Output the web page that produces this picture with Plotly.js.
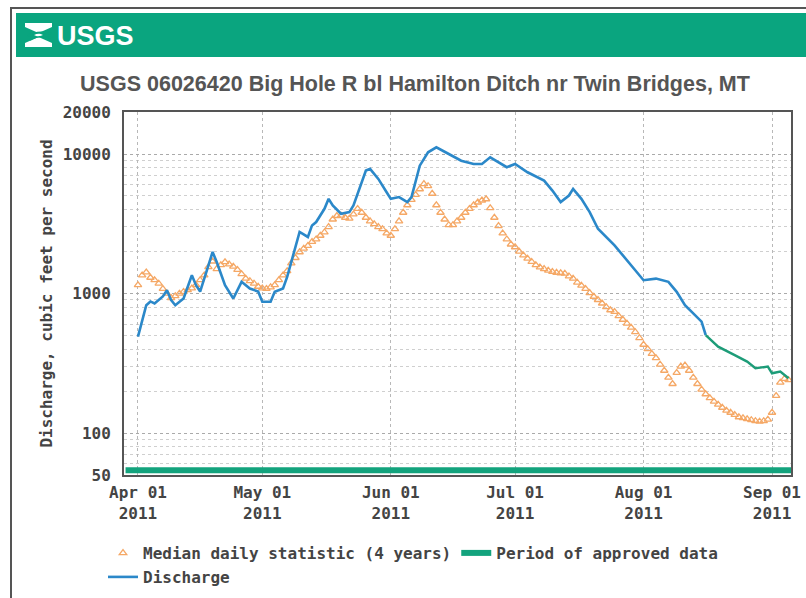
<!DOCTYPE html>
<html><head><meta charset="utf-8">
<script src="https://cdn.plot.ly/plotly-3.0.1.min.js"></script>
<style>html,body{margin:0;padding:0;background:#fff}#chart{width:806px;height:598px}</style>
</head><body><div id="chart"></div>
<script>
// ---------- data ----------
const chartTitle = 'USGS 06026420 Big Hole R bl Hamilton Ditch nr Twin Bridges, MT';
const monthTicks = ['2011-04-01','2011-05-01','2011-06-01','2011-07-01','2011-08-01','2011-09-01'];
const monthLabels = ['Apr 01<br>2011','May 01<br>2011','Jun 01<br>2011','Jul 01<br>2011','Aug 01<br>2011','Sep 01<br>2011'];
const yTickVals = [50, 100, 1000, 10000, 20000];
const yTickText = ['50', '100', '1000', '10000', '20000'];
const yMinorVals = [60,70,80,90,200,300,400,500,600,700,800,900,2000,3000,4000,5000,6000,7000,8000,9000];

const dischargeDates = [
 '2011-04-01','2011-04-03','2011-04-04','2011-04-05','2011-04-07','2011-04-08','2011-04-09','2011-04-10',
 '2011-04-12','2011-04-14','2011-04-15','2011-04-16','2011-04-18','2011-04-19','2011-04-20','2011-04-22',
 '2011-04-24','2011-04-26','2011-04-28','2011-04-30','2011-05-01','2011-05-03','2011-05-04','2011-05-06',
 '2011-05-07','2011-05-08','2011-05-09','2011-05-10','2011-05-12','2011-05-13','2011-05-14','2011-05-16',
 '2011-05-17','2011-05-18','2011-05-20','2011-05-22','2011-05-23','2011-05-25','2011-05-26','2011-05-27',
 '2011-05-29','2011-05-31','2011-06-01','2011-06-03','2011-06-05','2011-06-06','2011-06-08','2011-06-10',
 '2011-06-12','2011-06-15','2011-06-18','2011-06-21','2011-06-23','2011-06-25','2011-06-27','2011-06-29',
 '2011-07-01','2011-07-04','2011-07-08','2011-07-10','2011-07-12','2011-07-14','2011-07-15','2011-07-17',
 '2011-07-19','2011-07-21','2011-07-25','2011-07-29','2011-08-01','2011-08-04','2011-08-07','2011-08-09',
 '2011-08-11','2011-08-15','2011-08-16','2011-08-19','2011-08-23','2011-08-26','2011-08-28','2011-08-31',
 '2011-09-01','2011-09-03','2011-09-05'];
const dischargeValues = [
 491,824,877,849,952,1056,896,824,
 921,1352,1146,1033,1592,1985,1683,1146,
 921,1213,1086,1033,873,873,1028,1086,
 1315,1683,2096,2761,2542,3076,3252,4047,
 4771,4276,3728,3834,4276,6280,7609,7817,
 6630,5324,4771,4909,4522,4909,8250,10280,
 11160,10000,8954,8483,8483,9471,8725,8037,
 8483,7396,6444,5470,4522,5036,5623,4771,
 3834,2911,2213,1592,1245,1279,1213,1028,
 824,628,504,416,362,325,291,299,
 268,276,247];
const provisionalFrom = '2011-08-16';   // discharge drawn in green from this date

const medianStart = '2011-04-01';
const medianValues = [
 1150,1350,1420,1300,1250,1180,1080,1000,930,960,1000,1030,1060,1090,1150,1250,1350,1550,1700,1500,1600,1680,1620,1560,1480,1380,1280,1230,1180,1120,
 1090,1080,1110,1150,1250,1350,1450,1650,1800,1980,2100,2200,2350,2450,2600,2750,3000,3400,3600,3620,3500,3450,3700,4050,3800,3500,3300,3150,3000,2900,2700,
 2600,2900,3300,3800,4300,4700,5100,5600,6100,5900,5200,4300,3800,3400,3100,3100,3300,3500,3800,4050,4300,4500,4650,4750,4100,3500,3050,2700,2450,2250,
 2150,2000,1880,1780,1690,1600,1540,1500,1460,1430,1410,1400,1390,1330,1280,1200,1140,1080,1010,950,900,850,800,760,740,690,650,610,570,530,480,
 430,400,370,345,310,280,250,225,270,300,305,280,250,225,205,190,178,168,160,152,145,140,135,130,128,126,124,122,121,122,125,
 140,185,230,245,240];
const approvedPeriod = ['2011-03-29', '2011-09-05 14:00'];
const xRange = ['2011-03-28 15:00', '2011-09-05 14:00'];
const yRange = [50, 20000];

// ---------- build ----------
const medianDates = medianValues.map((v, i) => {
  const d = new Date(medianStart + 'T00:00:00Z');
  d.setUTCDate(d.getUTCDate() + i);
  return d.toISOString().slice(0, 10);
});
const blueX = [], blueY = [], greenX = [], greenY = [];
dischargeDates.forEach((d, i) => {
  if (d <= provisionalFrom) { blueX.push(d); blueY.push(dischargeValues[i]); }
  if (d >= provisionalFrom) { greenX.push(d); greenY.push(dischargeValues[i]); }
});

// plot-area pixel frame -> paper coords (for decorations outside the plot)
const W = 806, H = 598;
const PL = 124, PR = 791, PT = 112, PB = 475;
const px = x => (x - PL) / (PR - PL);
const py = y => (PB - y) / (PB - PT);
const cx = x => x / W;
const cy = y => 1 - y / H;

const mono = 'DejaVu Sans Mono, monospace';
const narrow = 'Liberation Sans Narrow, Arial Narrow, Liberation Sans, Arial, sans-serif';
const txt = '#444';
const green = '#13a37d';
const fs = 16;

const traces = [
  { x: medianDates, y: medianValues, type: 'scatter', mode: 'markers',
    name: 'Median daily statistic (4 years)', legend: 'legend', legendrank: 1,
    marker: { symbol: 'triangle-up-open', size: 6.5, color: '#f5a866', line: { width: 1.3, color: '#f5a866' } },
    hoverinfo: 'skip' },
  { x: blueX, y: blueY, type: 'scatter', mode: 'lines', name: 'Discharge', legend: 'legend2',
    line: { color: '#2b88c9', width: 2.6 }, hoverinfo: 'skip' },
  { x: greenX, y: greenY, type: 'scatter', mode: 'lines', showlegend: false,
    line: { color: '#1d9c78', width: 2.4 }, hoverinfo: 'skip' }
];

function P(pts) { return 'M' + pts.map(p => px(p[0]) + ',' + py(p[1])).join(' L') + ' Z'; }

const shapes = [
  // approved-data band
  { type: 'line', xref: 'x', yref: 'paper', x0: approvedPeriod[0], x1: approvedPeriod[1], y0: 0.013, y1: 0.013,
    line: { color: green, width: 6 }, showlegend: true, name: 'Period of approved data', legend: 'legend', legendrank: 2 },
  // header band
  { type: 'rect', xref: 'paper', yref: 'paper', x0: px(16), x1: px(806), y0: py(57), y1: py(13),
    fillcolor: '#0aa57f', line: { width: 0 }, layer: 'above' },
  // page frame
  { type: 'line', xref: 'paper', yref: 'paper', x0: px(10), x1: px(806), y0: py(8), y1: py(8), line: { color: '#555', width: 2 } },
  { type: 'line', xref: 'paper', yref: 'paper', x0: px(11), x1: px(11), y0: py(8), y1: py(598), line: { color: '#555', width: 2 } },
  // USGS mark
  { type: 'path', xref: 'paper', yref: 'paper', layer: 'above',
    path: P([[25,23],[52,23],[52,27],[34,35],[52,43],[52,47],[25,47],[25,43],[43,35],[25,27]]),
    fillcolor: '#ffffff', line: { width: 0 } },
  { type: 'path', xref: 'paper', yref: 'paper', layer: 'above',
    path: 'M' + px(28) + ',' + py(36) + ' Q' + px(38) + ',' + py(30) + ' ' + px(51) + ',' + py(34),
    line: { color: '#0aa57f', width: 2 } },
  { type: 'path', xref: 'paper', yref: 'paper', layer: 'above',
    path: 'M' + px(30) + ',' + py(40) + ' Q' + px(40) + ',' + py(34) + ' ' + px(52) + ',' + py(38),
    line: { color: '#0aa57f', width: 1.5 } }
];

const layout = {
  width: W, height: H,
  margin: { l: PL, r: W - PR, t: PT, b: H - PB, pad: 0 },
  paper_bgcolor: '#ffffff', plot_bgcolor: '#ffffff',
  title: { text: chartTitle, xref: 'container', yref: 'container', x: cx(415), xanchor: 'center',
    y: cy(83), yanchor: 'middle', automargin: false,
    font: { family: narrow, weight: 'bold', size: 21.5, color: '#555' } },
  xaxis: {
    type: 'date', range: xRange, tickmode: 'array', tickvals: monthTicks, ticktext: monthLabels,
    showgrid: true, gridcolor: '#b8b8b8', griddash: 'dot', gridwidth: 1,
    showline: true, mirror: true, linecolor: '#555', linewidth: 2, ticks: '', zeroline: false,
    ticklabelstandoff: 2, automargin: false,
    tickfont: { family: mono, weight: 'bold', size: fs, color: txt }
  },
  yaxis: {
    type: 'log', range: yRange.map(Math.log10), tickmode: 'array', tickvals: yTickVals, ticktext: yTickText,
    showgrid: true, gridcolor: '#aaaaaa', griddash: 'dot', gridwidth: 1,
    minor: { tickmode: 'array', tickvals: yMinorVals, showgrid: true, gridcolor: '#cfcfcf', griddash: 'dot', ticklen: 0 },
    showline: true, mirror: true, linecolor: '#555', linewidth: 2, ticks: '', zeroline: false,
    ticklabelstandoff: 8, automargin: false,
    tickfont: { family: mono, weight: 'bold', size: fs, color: txt },
    title: { text: 'Discharge, cubic feet per second', standoff: 6,
      font: { family: mono, weight: 'bold', size: fs, color: txt } }
  },
  legend: { orientation: 'h', xref: 'container', yref: 'container', x: cx(103), xanchor: 'left', y: cy(536), yanchor: 'top',
    bgcolor: 'rgba(0,0,0,0)', font: { family: mono, weight: 'bold', size: fs, color: txt } },
  legend2: { orientation: 'h', xref: 'container', yref: 'container', x: cx(103), xanchor: 'left', y: cy(560), yanchor: 'top',
    bgcolor: 'rgba(0,0,0,0)', font: { family: mono, weight: 'bold', size: fs, color: txt } },
  shapes: shapes,
  annotations: [
    { xref: 'paper', yref: 'paper', x: px(55), y: py(36), xanchor: 'left', yanchor: 'middle', showarrow: false,
      text: 'USGS', font: { family: narrow, weight: 'bold', size: 27, color: '#ffffff' } }
  ],
  showlegend: true
};

Plotly.newPlot('chart', traces, layout, { staticPlot: true, displayModeBar: false });
</script>
</body></html>
